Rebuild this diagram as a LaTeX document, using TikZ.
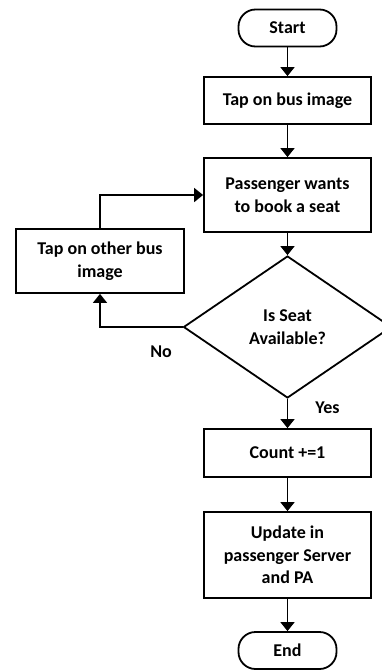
\documentclass[tikz,border=0pt]{standalone}
\usepackage{fontspec}
\setmainfont{Carlito}
\usepackage{tikz}
\usetikzlibrary{arrows.meta,shapes,positioning}
\tikzstyle{arrow} = [line width=1.8pt,-{Triangle[length=9pt,width=14pt]}]
\tikzstyle{startstop} = [rectangle, rounded corners=17pt, minimum width=98pt, minimum height=37pt, text centered, draw, line width=1.8pt]
\tikzstyle{process} = [rectangle, minimum width=167pt, minimum height=47pt, align=center, draw, line width=1.8pt]
\tikzstyle{decision} = [diamond, minimum width=208pt, minimum height=142pt, inner sep=0pt, align=center, draw, line width=1.8pt]

\begin{document}
\begin{tikzpicture}[font=\fontsize{18}{22.5}\selectfont\bfseries]
\useasboundingbox (0,0) rectangle (382pt,-670pt);
% Main column
\node (start) [startstop] at (287.5pt,-28pt) {Start};
\node (tapbus) [process, below of=start, node distance=72.5pt] {Tap on bus image};
\node (wants) [process, below of=tapbus, node distance=94.5pt, minimum height=74pt] {Passenger wants\\to book a seat};
\node (avail) [decision, below of=wants, node distance=132pt] {Is Seat\\Available?};
\node (count) [process, below of=avail, node distance=126pt, minimum height=48pt] {Count +=1};
\node (update) [process, below of=count, node distance=102pt, minimum height=86pt] {Update in\\passenger Server\\and PA};
\node (stop) [startstop, below of=update, node distance=95.5pt] {End};
% Side branch
\node (tapother) [process, minimum width=168pt, minimum height=64pt] at (100pt,-261pt) {Tap on other bus\\image};

\draw[arrow] (start) -- (tapbus);
\draw[arrow] (tapbus) -- (wants);
\draw[arrow] (wants) -- (avail);
\draw[arrow] (avail) -- node[pos=0.3, xshift=40pt] {Yes} (count);
\draw[arrow] (count) -- (update);
\draw[arrow] (update) -- (stop);
\draw[arrow] (avail.west) -| node[pos=0.13, yshift=-25pt] {No} (tapother);
\draw[arrow] (tapother) |- (wants);
\end{tikzpicture}
\end{document}
